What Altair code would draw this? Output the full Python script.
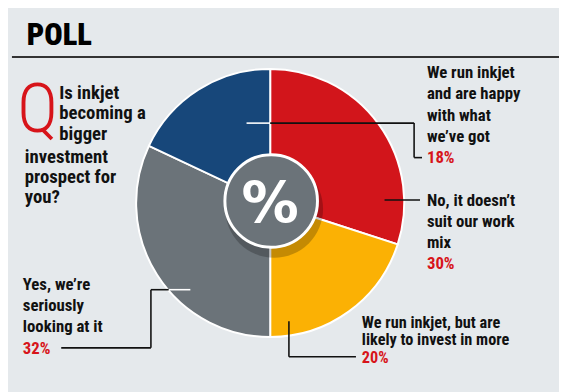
import altair as alt
import pandas as pd

# ---- data ----
categories = [
    "No, it doesn't suit our work mix",
    "We run inkjet, but are likely to invest in more",
    "Yes, we're seriously looking at it",
    "We run inkjet and are happy with what we've got",
]
values = [30, 20, 32, 18]
slice_order = [0, 1, 2, 3]
colors = ["#d2151b", "#fbb104", "#6b7379", "#17477a"]

title_text = "POLL"
question_lines_a = ["Is inkjet", "becoming a", "bigger"]
question_lines_b = ["investment", "prospect for", "you?"]
label_happy = ["We run inkjet", "and are happy", "with what", "we\u2019ve got"]
label_no = ["No, it doesn\u2019t", "suit our work", "mix"]
label_invest = ["We run inkjet, but are", "likely to invest in more"]
label_yes = ["Yes, we\u2019re", "seriously", "looking at it"]
pct_labels = [f"{v}%" for v in values]

df = pd.DataFrame({"category": categories, "value": values, "order": slice_order})
one = pd.DataFrame({"k": [0]})

# ---- layout helpers (page has an 8px margin) ----
M = 8
def X(v):
    return v - M
def Y(v):
    return v - M

W, H = 567 - M, 392 - M
BG = "#e5e9ec"
RED = "#d7141a"
INK = "#111111"
FONT = "Roboto Condensed, Roboto, sans-serif"
FS = 17
CX, CY, R = 274, 203, 136

layers = []

# title + rule
layers.append(alt.Chart(one).mark_text(text=title_text, font=FONT, fontWeight=900, fontSize=31,
                                       align="left", baseline="alphabetic", color="#000")
              .encode(x=alt.value(X(27)), y=alt.value(Y(43))))
layers.append(alt.Chart(one).mark_rule(color="#333333", strokeWidth=2)
              .encode(x=alt.value(X(12)), x2=alt.value(W), y=alt.value(Y(55))))

# pie
layers.append(alt.Chart(df).mark_arc(outerRadius=R, stroke="white", strokeWidth=2).encode(
    theta=alt.Theta("value:Q", stack=True),
    color=alt.Color("category:N", scale=alt.Scale(domain=categories, range=colors), legend=None),
    order=alt.Order("order:Q"),
    x=alt.value(X(CX)), y=alt.value(Y(CY)),
))

# centre disc with shadow
layers.append(alt.Chart(one).mark_circle(size=3.1416 * 56 ** 2, color="#000", opacity=0.22)
              .encode(x=alt.value(X(CX + 4)), y=alt.value(Y(CY + 6))))
layers.append(alt.Chart(one).mark_circle(size=3.1416 * 53 ** 2, color="#6b7379", opacity=1,
                                         stroke="white", strokeWidth=3)
              .encode(x=alt.value(X(CX + 1)), y=alt.value(Y(CY - 2))))
layers.append(alt.Chart(one).mark_text(text="%", font="DejaVu Sans", fontWeight="bold", fontSize=58,
                                       color="white", align="center", baseline="middle")
              .encode(x=alt.value(X(CX)), y=alt.value(Y(CY + 3))))

# question
layers.append(alt.Chart(one).mark_text(text="Q", font=FONT, fontWeight=300, fontSize=70, color=RED,
                                       align="center", baseline="alphabetic")
              .encode(x=alt.value(X(38)), y=alt.value(Y(131))))
def block(lines, x, y_first_center, lh, color=INK, fs=FS):
    return (alt.Chart(one).mark_text(text=lines, font=FONT, fontWeight="bold", fontSize=fs,
                                     color=color, align="left", baseline="top", lineHeight=lh)
            .encode(x=alt.value(X(x)), y=alt.value(Y(y_first_center - 0.45 * fs))))

layers.append(block(question_lines_a, 60, 91, 20.7, fs=19))
layers.append(block(question_lines_b, 25, 156, 20.5, fs=19))

# labels
layers.append(block(label_happy, 433, 71, 21.6))
layers.append(block([pct_labels[3]], 433, 157, 21, color=RED))
layers.append(block(label_no, 433, 201, 21.2))
layers.append(block([pct_labels[0]], 433, 265, 21, color=RED))
layers.append(block([label_invest[0]], 367, 324, 17.8, fs=16.5))
layers.append(block([label_invest[1]], 367, 342, 17.8, fs=16.5))
layers.append(block([pct_labels[1]], 367, 359.5, 21, fs=16.5, color=RED))
layers.append(block(label_yes, 23, 286, 21.2))
layers.append(block([pct_labels[2]], 23, 351, 21, color=RED))

# leader lines
def seg(x1, y1, x2, y2, color=INK):
    return (alt.Chart(one).mark_rule(color=color, strokeWidth=1.6)
            .encode(x=alt.value(X(x1)), y=alt.value(Y(y1)), x2=alt.value(X(x2)), y2=alt.value(Y(y2))))

layers += [
    seg(250, 122, 274, 122, "white"), seg(274, 122, 420, 122), seg(420, 122, 420, 157), seg(420, 157, 428, 157),
    seg(390, 200, 426, 200),
    seg(293, 323, 293, 359), seg(293, 359, 361, 359),
    seg(193, 291, 171, 291, "white"), seg(171, 291, 153, 291), seg(153, 291, 153, 350), seg(153, 350, 62, 350),
]

chart = alt.layer(*layers).properties(
    width=W, height=H, background=BG, padding=0,
    autosize=alt.AutoSizeParams(type="none"),
).configure_view(stroke=None)

chart.save("out.html", embed_options={"renderer": "svg", "actions": False})
